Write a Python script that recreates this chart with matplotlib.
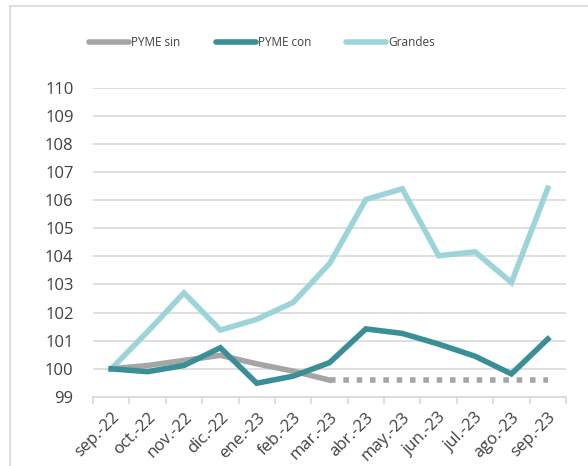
import matplotlib
matplotlib.use("Agg")
import matplotlib.pyplot as plt
from matplotlib.lines import Line2D
import numpy as np

plt.rcParams['font.family'] = ['Open Sans', 'DejaVu Sans']

categories = ["sep.-22", "oct.-22", "nov.-22", "dic.-22", "ene.-23", "feb.-23", "mar.-23",
              "abr.-23", "may.-23", "jun.-23", "jul.-23", "ago.-23", "sep.-23"]
pyme_sin = [100.0, 100.12, 100.3, 100.48, 100.18, 99.92, 99.6]
pyme_sin_proj = [99.6, 99.6, 99.6, 99.6, 99.6, 99.6, 99.6]
pyme_con = [100.0, 99.9, 100.12, 100.75, 99.49, 99.74, 100.22, 101.42, 101.26, 100.88, 100.45, 99.82, 101.06]
grandes = [100.0, 101.32, 102.7, 101.38, 101.76, 102.36, 103.74, 106.02, 106.4, 104.02, 104.16, 103.07, 106.42]
yticks = list(range(99, 111))

c_sin = "#a5a5a5"
c_con = "#3a8f96"
c_gra = "#9dd4d9"
grid_c = "#d9d9d9"
text_c = "#404040"

fig = plt.figure(figsize=(5.88, 4.66), dpi=100)
ax = fig.add_axes([93/588, 1-397/466, (566-93)/588, (397-87.5)/466])

x = np.arange(len(categories))
lw = 4.0
ax.plot(x[:len(pyme_sin)], pyme_sin, color=c_sin, lw=lw, solid_joinstyle='miter', zorder=3)
ax.plot(x[6:6+len(pyme_sin_proj)], pyme_sin_proj, color=c_sin, lw=lw,
        linestyle=(0, (1.0, 1.4)), dash_capstyle='butt', zorder=3)
ax.plot(x, pyme_con, color=c_con, lw=lw, solid_joinstyle='miter', zorder=4)
ax.plot(x, grandes, color=c_gra, lw=lw, solid_joinstyle='miter', zorder=2)

ax.set_xlim(-0.5, len(categories) - 0.5)
ax.set_ylim(99, 110)
ax.set_yticks(yticks)
ax.set_yticklabels([str(v) for v in yticks])
ax.grid(axis='y', color=grid_c, lw=1.2, zorder=0)
ax.set_axisbelow(True)

for s in ['top', 'right', 'left']:
    ax.spines[s].set_visible(False)
ax.spines['bottom'].set_color(grid_c)
ax.spines['bottom'].set_linewidth(1.2)

ax.set_xticks(np.arange(-0.5, len(categories), 1.0), minor=False)
ax.set_xticklabels([])
ax.tick_params(axis='x', which='major', length=5, color=grid_c, width=1.2)
ax.set_xticks(x, minor=True)
ax.set_xticklabels(categories, minor=True, rotation=45, ha='right',
                   rotation_mode='anchor', fontsize=12, color=text_c)
ax.tick_params(axis='x', which='minor', length=0, pad=9)
ax.tick_params(axis='y', length=0, labelsize=12, labelcolor=text_c, pad=14)

handles = [Line2D([], [], color=c_sin, lw=4, solid_capstyle='round'),
           Line2D([], [], color=c_con, lw=4, solid_capstyle='round'),
           Line2D([], [], color=c_gra, lw=4, solid_capstyle='round')]
fig.legend(handles, ["PYME sin", "PYME con", "Grandes"], ncol=3, loc='center',
           bbox_to_anchor=(262/588, 1-43/466), frameon=False, fontsize=8.5,
           handlelength=3.4, handletextpad=0.15, columnspacing=3.0,
           labelcolor=text_c)

# chart frame
fig.add_artist(Line2D([10/588, 10/588], [0, 1-6/466], transform=fig.transFigure, color=grid_c, lw=1.2))
fig.add_artist(Line2D([10/588, 1], [1-6/466, 1-6/466], transform=fig.transFigure, color=grid_c, lw=1.2))

fig.savefig("out.png", dpi=100)
